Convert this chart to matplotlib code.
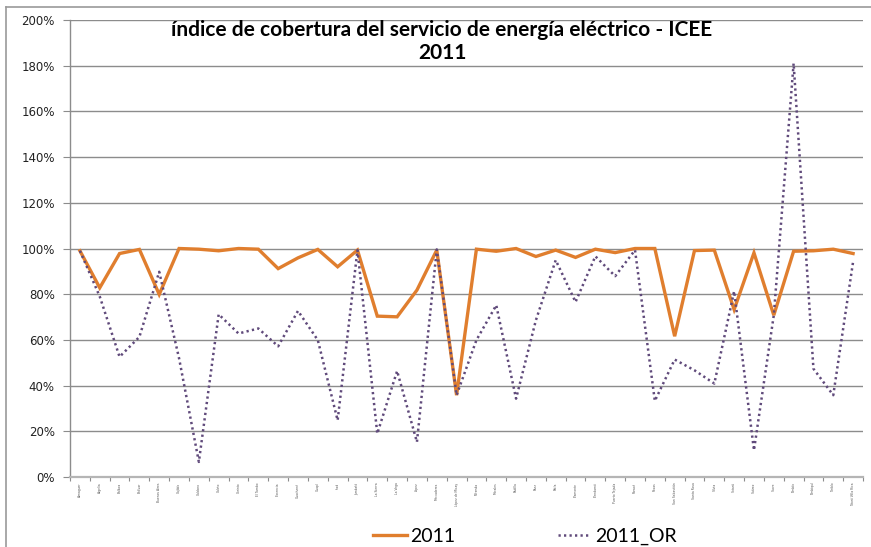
import matplotlib
matplotlib.use("Agg")
import matplotlib.pyplot as plt
from matplotlib.lines import Line2D
from matplotlib.ticker import FuncFormatter, FixedLocator

municipios = ["Almaguer", "Argelia", "Balboa", "Bolívar", "Buenos Aires", "Cajibío", "Caldono",
              "Caloto", "Corinto", "El Tambo", "Florencia", "Guachené", "Guapí", "Inzá", "Jambaló",
              "La Sierra", "La Vega", "López", "Mercaderes", "López de Micay", "Miranda", "Morales",
              "Padilla", "Páez", "Patía", "Piamonte", "Piendamó", "Puerto Tejada", "Puracé", "Rosas",
              "San Sebastián", "Santa Rosa", "Silvia", "Sotará", "Suárez", "Sucre", "Timbío",
              "Timbiquí", "Toribío", "Totoró Villa Rica"]

icee_2011 = [99.0, 82.8, 97.8, 99.6, 79.9, 100.0, 99.7, 99.0, 100.0, 99.7,
             91.2, 95.9, 99.6, 92.0, 99.3, 70.4, 70.1, 81.8, 99.3, 35.8,
             99.7, 98.8, 100.0, 96.5, 99.3, 96.1, 99.7, 98.2, 100.0, 100.0,
             61.6, 99.1, 99.3, 73.3, 98.1, 70.8, 98.8, 99.0, 99.7, 97.8]

icee_2011_or = [99.0, 79.0, 52.6, 61.3, 89.8, 52.0, 6.6, 71.2, 62.8, 65.0,
                57.2, 72.7, 59.9, 24.8, 99.3, 19.0, 46.4, 15.3, 99.6, 35.8,
                59.9, 75.2, 34.3, 68.6, 94.9, 76.6, 96.6, 87.9, 99.3, 33.3,
                51.4, 46.7, 40.9, 81.3, 11.7, 70.8, 181.0, 47.4, 35.8, 94.2]

y_ticks = [0, 20, 40, 60, 80, 100, 120, 140, 160, 180, 200]

W, H = 871, 547
fig = plt.figure(figsize=(W / 100, H / 100), dpi=100)
ax = fig.add_axes([70 / W, 1 - 477 / H, (863 - 70) / W, (477 - 20) / H])

x = list(range(len(municipios)))
orange = "#E07E2E"
purple = "#604A7B"

l1, = ax.plot(x, icee_2011, color=orange, lw=2.4, label="2011", solid_joinstyle="miter", zorder=3)
l2, = ax.plot(x, icee_2011_or, color=purple, lw=1.8, linestyle=(0, (0.9, 1.3)),
              dash_capstyle="butt", label="2011_OR", zorder=4)

ax.set_xlim(-0.5, len(municipios) - 0.5)
ax.set_ylim(0, 200)
ax.yaxis.set_major_locator(FixedLocator(y_ticks))
ax.yaxis.set_major_formatter(FuncFormatter(lambda v, p: f"{int(v)}%"))
ax.grid(axis="y", color="#8c8c8c", lw=1.0)
ax.set_axisbelow(True)

ax.set_xticks(x)
ax.set_xticklabels(municipios, rotation=90, fontsize=2.2, color="#555555")
ax.set_xticks([i - 0.5 for i in range(len(municipios) + 1)], minor=True)
ax.tick_params(axis="x", which="major", length=0, pad=4)
ax.tick_params(axis="x", which="minor", length=3, color="#8c8c8c", width=0.8)
ax.tick_params(axis="y", length=5, color="#8c8c8c", width=0.8, labelsize=8.5,
               labelcolor="#222222", pad=6)

for s in ["top", "right"]:
    ax.spines[s].set_visible(False)
ax.spines["left"].set_color("#8c8c8c")
ax.spines["left"].set_linewidth(1.0)
ax.spines["bottom"].set_color("#b5b5b5")
ax.spines["bottom"].set_linewidth(1.6)

fig.text(442 / W, 1 - 30 / H, "índice de cobertura del servicio de energía eléctrico - ICEE",
         ha="center", va="center", fontsize=15, fontweight="bold", family="Lato")
fig.text(442 / W, 1 - 53 / H, "2011", ha="center", va="center", fontsize=15,
         fontweight="bold", family="Lato")

fs = 14
leg1 = fig.legend(handles=[l1], labels=["2011"], loc="center left",
                  bbox_to_anchor=(373 / W, 1 - 536 / H), frameon=False, borderpad=0,
                  borderaxespad=0, handlelength=1.75, handletextpad=0.15,
                  prop={"family": "Lato", "size": fs})
leg2 = fig.legend(handles=[l2], labels=["2011_OR"], loc="center left",
                  bbox_to_anchor=(558 / W, 1 - 536 / H), frameon=False, borderpad=0,
                  borderaxespad=0, handlelength=1.65, handletextpad=0.25,
                  prop={"family": "Lato", "size": fs})

fig.add_artist(Line2D([5.5 / W, 1.0], [1 - 7 / H, 1 - 7 / H], color="#9a9a9a", lw=1.2,
                      transform=fig.transFigure))
fig.add_artist(Line2D([5.5 / W, 5.5 / W], [0, 1 - 7 / H], color="#9a9a9a", lw=1.2,
                      transform=fig.transFigure))

fig.savefig("out.png", dpi=100)
